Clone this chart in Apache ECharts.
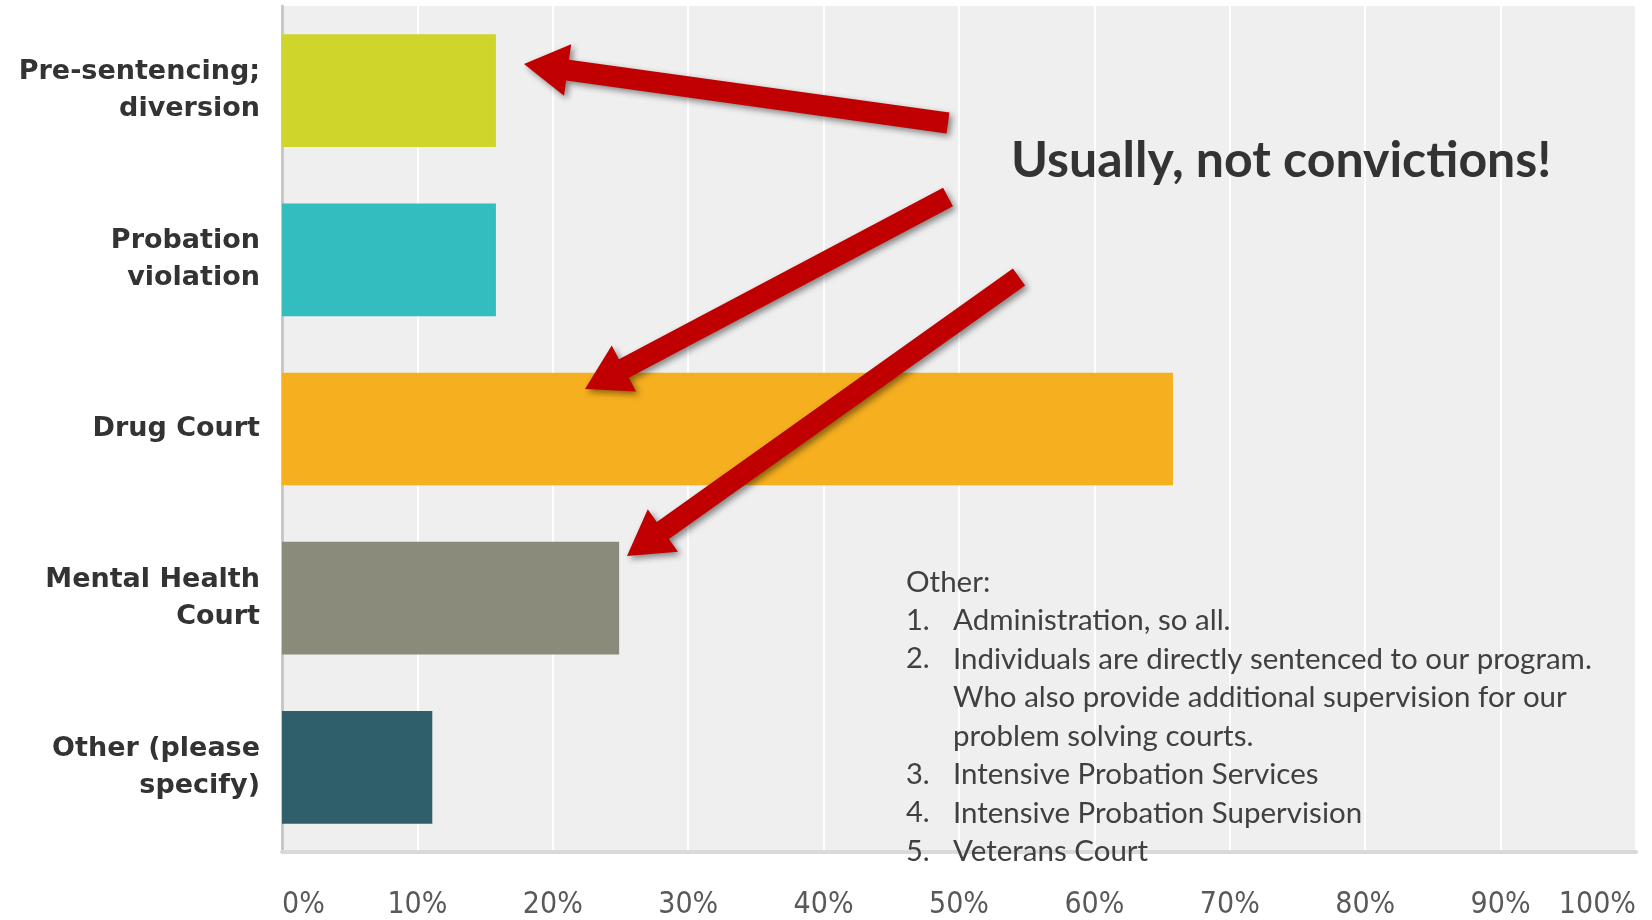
<!DOCTYPE html>
<html>
<head>
<meta charset="utf-8">
<script src="https://cdn.jsdelivr.net/npm/echarts@6/dist/echarts.min.js"></script>
<style>
  html, body { margin: 0; padding: 0; background: #fff; }
  #chart { width: 1652px; height: 920px; }
</style>
</head>
<body>
<div id="chart"></div>
<script>
// data
const categories = [
	"Pre-sentencing;\ndiversion",
	"Probation\nviolation",
	"Drug Court",
	"Mental Health\nCourt",
	"Other (please\nspecify)",
];
const values = [15.8, 15.8, 65.8, 24.9, 11.1];
const barColors = ["#cfd52a", "#33bdbf", "#f6af1f", "#8a8b7a", "#2e5f6b"];
const tickValues = [0, 10, 20, 30, 40, 50, 60, 70, 80, 90, 100];

const headline = "Usually, not convictions!";
const noteNums = ["", "1.", "2.", "", "", "3.", "4.", "5."];
const noteTexts = [
	"Other:",
	"Administration, so all.",
	"Individuals are directly sentenced to our program.",
	"Who also provide additional supervision for our",
	"problem solving courts.",
	"Intensive Probation Services",
	"Intensive Probation Supervision",
	"Veterans Court",
];

let chart = echarts.init(document.getElementById("chart"));

// 箭头多边形
function arrow(x1, y1, x2, y2) {
	const w = 21, hl = 44, hw = 52;
	const dx = x2 - x1, dy = y2 - y1, len = Math.hypot(dx, dy);
	const ux = dx / len, uy = dy / len, px = -uy, py = ux;
	const bx = x2 - ux * hl, by = y2 - uy * hl;
	return {
		type: "polygon",
		z: 100,
		shape: {
			points: [
				[x1 + px * w / 2, y1 + py * w / 2],
				[bx + px * w / 2, by + py * w / 2],
				[bx + px * hw / 2, by + py * hw / 2],
				[x2, y2],
				[bx - px * hw / 2, by - py * hw / 2],
				[bx - px * w / 2, by - py * w / 2],
				[x1 - px * w / 2, y1 - py * w / 2],
			],
		},
		style: {
			fill: "#c00000",
			shadowBlur: 6,
			shadowOffsetX: 3,
			shadowOffsetY: 3,
			shadowColor: "rgba(0,0,0,0.45)",
		},
	};
}

const graphics = [
	arrow(948, 123, 524, 64),
	arrow(948, 197, 585, 389),
	arrow(1019, 277, 627, 556),
	{
		type: "text",
		z: 100,
		x: 1011,
		y: 161,
		style: {
			text: headline,
			font: "bold 50px Lato, 'Open Sans', sans-serif",
			fill: "#333333",
			verticalAlign: "middle",
		},
	},
];
noteTexts.forEach((t, i) => {
	const y = 582 + i * 38.5;
	if (noteNums[i]) {
		graphics.push({
			type: "text", z: 100, x: 906, y: y,
			style: { text: noteNums[i], font: "29px Lato, sans-serif", fill: "#404040", verticalAlign: "middle" },
		});
	}
	graphics.push({
		type: "text", z: 100, x: i === 0 ? 906 : 953, y: y,
		style: { text: t, font: "29.5px Lato, sans-serif", fill: "#404040", verticalAlign: "middle" },
	});
});

let option = {
	animation: false,
	backgroundColor: "#ffffff",
	grid: {
		left: 282,
		right: 16,
		top: 6,
		bottom: 65,
		show: true,
		backgroundColor: "#efefef",
		borderWidth: 0,
	},
	xAxis: {
		type: "value",
		min: 0,
		max: 100,
		interval: 10,
		axisLine: { show: true, lineStyle: { color: "#d9d9d9", width: 4 } },
		axisTick: { show: false },
		splitLine: { lineStyle: { color: "#ffffff", width: 2 } },
		axisLabel: {
			formatter: (v) => (tickValues.includes(v) ? v + "%" : ""),
			margin: 38,
			fontSize: 30,
			fontFamily: "'Liberation Sans Narrow', 'DejaVu Sans Condensed', sans-serif",
			color: "#595959",
			alignMinLabel: "left",
			alignMaxLabel: "right",
		},
	},
	yAxis: {
		type: "category",
		inverse: true,
		data: categories,
		axisLine: { show: true, lineStyle: { color: "#c8c8c8", width: 3 } },
		axisTick: { show: false },
		axisLabel: {
			margin: 22,
			fontSize: 27,
			fontWeight: "bold",
			fontFamily: "'DejaVu Sans', sans-serif",
			color: "#333333",
			lineHeight: 37,
			align: "right",
		},
	},
	series: [
		{
			type: "bar",
			barCategoryGap: "33.4%",
			data: values.map((v, i) => ({ value: v, itemStyle: { color: barColors[i] } })),
		},
	],
	graphic: graphics,
};

chart.setOption(option);
</script>
</body>
</html>
